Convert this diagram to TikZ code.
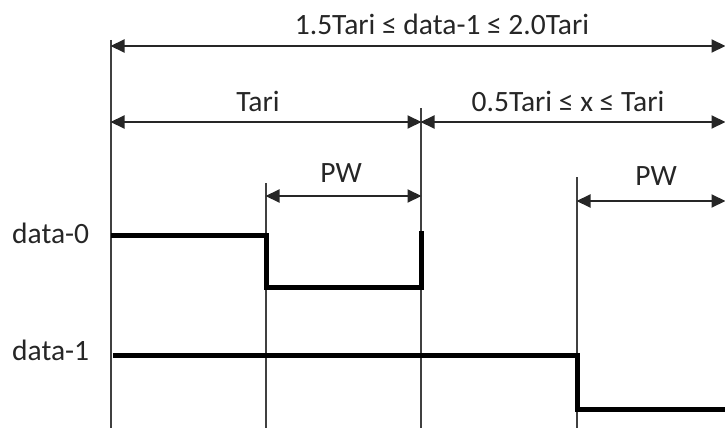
\documentclass[tikz,border=0pt]{standalone}
\usepackage{fontspec}
\setmainfont{Carlito}
\usetikzlibrary{arrows.meta}
\begin{document}
\begin{tikzpicture}[x=1pt,y=-1pt,
  lbl/.style={font=\fontsize{29.5}{32}\selectfont, text=black!85, inner sep=0pt},
  guide/.style={line width=1.1pt, black!75},
  dim/.style={line width=2pt, black!85, {Triangle[length=14pt,width=13pt]}-{Triangle[length=14pt,width=13pt]}, shorten <=-0.5pt, shorten >=-0.5pt},
  sig/.style={line width=5pt, black, line join=miter}]
\useasboundingbox (0,0) rectangle (725,428);
% guide lines
\coordinate (g1t) at (111,40);  \coordinate (g1b) at (111,428);
\coordinate (g2t) at (266,183); \coordinate (g2b) at (266,428);
\coordinate (g3t) at (421,108); \coordinate (g3b) at (421,428);
\coordinate (g4t) at (577,177); \coordinate (g4b) at (577,428);
\draw[guide] (g1t) -- (g1b);
\draw[guide] (g2t) -- (g2b);
\draw[guide] (g3t) -- (g3b);
\draw[guide] (g4t) -- (g4b);
% dimension arrows
\coordinate (a1l) at (111,46);  \coordinate (a1r) at (725,46);
\coordinate (a2l) at (111,122); \coordinate (a2m) at (421,122); \coordinate (a2r) at (725,122);
\coordinate (p1l) at (266,196); \coordinate (p1r) at (421,196);
\coordinate (p2l) at (577,201); \coordinate (p2r) at (725,201);
\draw[dim] (a1l) -- (a1r);
\draw[dim] (a2l) -- (a2m);
\draw[dim] (a2m) -- (a2r);
\draw[dim] (p1l) -- (p1r);
\draw[dim] (p2l) -- (p2r);
% labels
\node[lbl] (title) at (442,24) {1.5Tari ≤ data-1 ≤ 2.0Tari};
\node[lbl] (tari) at (258,101) {Tari};
\node[lbl] (range) at (568,101) {0.5Tari ≤ x ≤ Tari};
\node[lbl] (pw1) at (341,173) {PW};
\node[lbl] (pw2) at (656,176) {PW};
\node[lbl, anchor=west] (d0) at (12,233) {data-0};
\node[lbl, anchor=west] (d1) at (12,350) {data-1};
% signals
\coordinate (s0a) at (111,235);
\coordinate (s0b) at (266,235);
\coordinate (s0c) at (266,287);
\coordinate (s0d) at (421,287);
\coordinate (s0e) at (421,231);
\draw[sig] (s0a) -- (s0b) -- (s0c) -- (s0d) -- (s0e);
\coordinate (s1a) at (113,355);
\coordinate (s1b) at (577,355);
\coordinate (s1c) at (577,409);
\coordinate (s1d) at (725,409);
\draw[sig] (s1a) -- (s1b) -- (s1c) -- (s1d);
\end{tikzpicture}
\end{document}
